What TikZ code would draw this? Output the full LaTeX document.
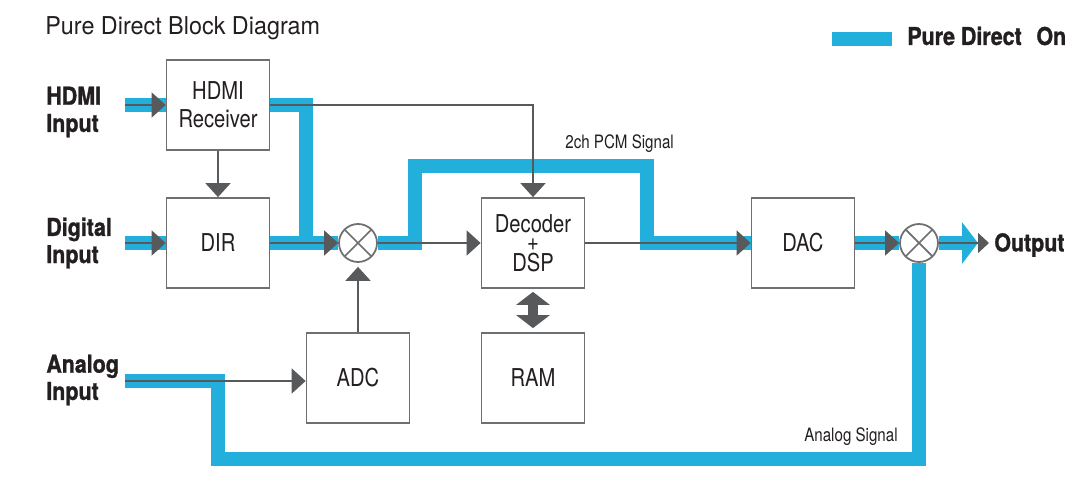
\documentclass[tikz,border=0pt]{standalone}
\usepackage{fontspec}
\setmainfont{TeX Gyre Heros}[FakeStretch=0.82]
\newfontfamily\titlefont{TeX Gyre Heros}[FakeStretch=0.95]
\newfontfamily\inputfont{TeX Gyre Heros}[FakeStretch=0.87,FakeBold=1.2]
\usetikzlibrary{positioning}
\usetikzlibrary{arrows.meta}
\usetikzlibrary{backgrounds}
\definecolor{pdblue}{RGB}{35,175,220}
\definecolor{sgray}{RGB}{88,89,91}
\definecolor{bgray}{RGB}{110,111,113}
\definecolor{ink}{RGB}{35,31,32}

\begin{document}
\begin{tikzpicture}[x=0.02cm,y=-0.02cm,>={Triangle[length=0.28cm,width=0.5cm]},
                block/.style={draw=bgray,line width=1pt,fill=white,minimum width=2.06cm,
                  minimum height=1.8cm,inner sep=0pt,align=center,text=ink,
                  font=\fontsize{14}{16}\selectfont},
                mixer/.style={circle,draw=bgray,line width=1pt,fill=white,minimum size=0.76cm,
                  inner sep=0pt,path picture={\draw[bgray,line width=1pt]
                  (path picture bounding box.north west) -- (path picture bounding box.south east)
                  (path picture bounding box.north east) -- (path picture bounding box.south west);}},
                pure/.style={draw=pdblue,line width=0.28cm},
                sig/.style={draw=sgray,line width=1pt},
                inlabel/.style={align=left,anchor=west,inner sep=0pt,text=ink,
                  font=\inputfont\bfseries\fontsize{14}{15.5}\selectfont},
                note/.style={inner sep=0pt,text=ink,font=\fontsize{10.5}{12}\selectfont}]

  \useasboundingbox (0,0) rectangle (1086,486);

  % title and legend
  \node[anchor=base west,inner sep=0pt,text=ink,font=\titlefont\fontsize{14}{16}\selectfont]
    (title) at (45,35) {Pure Direct Block Diagram};
  \node[fill=pdblue,minimum width=1.2cm,minimum height=0.28cm,inner sep=0pt] (legbar) at (862,39) {};
  \node[inlabel,anchor=base west] (legtext) at (907,45) {Pure Direct\hspace{5pt} On};

  % blocks
  \node[block] (hdmirx) at (218,105) {HDMI\\Receiver};
  \node[block] (dir) at (218,243) {DIR};
  \node[mixer] (mixa) at (358,243) {};
  \node[block,font=\fontsize{14}{11.5}\selectfont] (dsp) at (533,243) {\raisebox{-3pt}{Decoder}\\\raisebox{-2pt}{+}\\DSP};
  \node[block] (adc) at (358,378) {ADC};
  \node[block] (ram) at (533,378) {RAM};
  \node[block] (dac) at (803,243) {DAC};
  \node[mixer] (mixb) at (919,243) {};

  % inputs and output
  \node[inlabel] (hdmiin) at (46,112) {HDMI\\Input};
  \node[inlabel] (digin) at (46,243) {Digital\\Input};
  \node[inlabel] (anain) at (46,380) {Analog\\Input};
  \node[inlabel] (outlabel) at (994,245) {Output};
  \coordinate (hdmisrc) at (125,105);
  \coordinate (digsrc) at (125,243);
  \coordinate (anasrc) at (125,381);
  \coordinate (out) at (989,243);

  \node[note,anchor=base west] (pcm) at (565,149) {2ch PCM Signal};
  \node[note,anchor=base east] (anasig) at (898,441) {Analog Signal};

  % pure direct path
  \begin{scope}[on background layer]
    \draw[pure] (hdmisrc) -- (hdmirx.west);
    \draw[pure] (digsrc) -- (dir.west);
    \draw[pure] (hdmirx.east) -| (306,250);
    \draw[pure] (dir.east) -- (mixa.west);
    \draw[pure] (mixa.east) -| (415,166) -| (647,243) -- (dac.west);
    \draw[pure] (anasrc) -| (218,459) -| (mixb.south);
    \draw[pure] (dac.east) -- (mixb.west);
    \draw[pure,-{Triangle[length=0.32cm,width=0.82cm]}] (mixb.east) -- (978,243);
  \end{scope}

  % signal lines
  \draw[sig,->] (hdmisrc) -- (hdmirx.west);
  \draw[sig,->] (hdmirx.east) -| (dsp.north);
  \draw[sig,->] (hdmirx.south) -- (dir.north);
  \draw[sig,->] (digsrc) -- (dir.west);
  \draw[sig,->] (dir.east) -- (mixa.west);
  \draw[sig,->] (mixa.east) -- (dsp.west);
  \draw[sig,->] (dsp.east) -- (dac.west);
  \draw[sig,->] (anasrc) -- (anasrc -| adc.west);
  \draw[sig,->,shorten >=0.08cm] (adc.north) -- (mixa.south);
  \draw[sig,->] (dac.east) -- (mixb.west);
  \draw[sig,-{Triangle[length=0.22cm,width=0.4cm]}] (mixb.east) -- (out);
  \draw[sgray,line width=0.2cm,{Triangle[length=0.26cm,width=0.66cm]}-{Triangle[length=0.26cm,width=0.66cm]},
    shorten <=0.06cm,shorten >=0.08cm] (dsp.south) -- (ram.north);

\end{tikzpicture}
\end{document}
